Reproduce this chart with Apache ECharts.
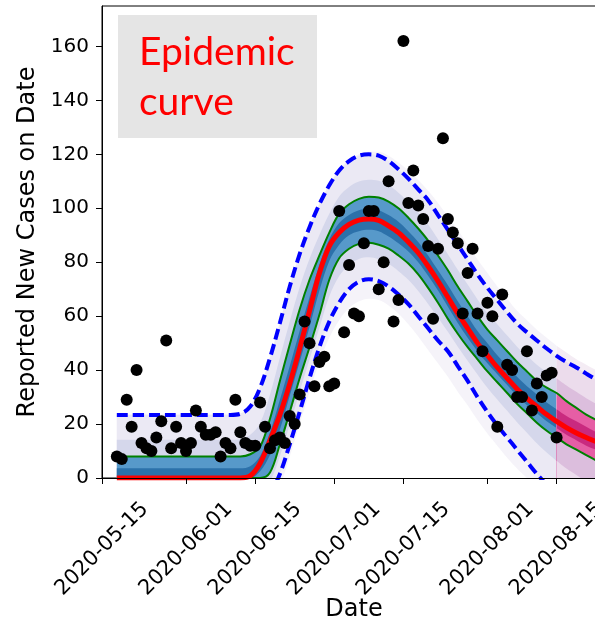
<!DOCTYPE html>
<html>
<head>
<meta charset="utf-8">
<script src="https://cdn.jsdelivr.net/npm/echarts@6/dist/echarts.min.js"></script>
<style>
html,body{margin:0;padding:0;background:#fff;}
#chart{width:595px;height:620px;}
</style>
</head>
<body>
<div id="chart"></div>
<script>
// ---- data ----
// daily reported new cases, first report on 2020-05-18
const firstReport = '2020-05-18';
const reportedCases = [8,7,29,19,40,13,11,10,15,21,51,11,19,13,10,13,25,19,16,16,
  17,8,13,11,29,17,13,12,12,28,19,11,14,15,13,23,20,31,58,50,
  34,43,45,34,35,99,54,79,61,60,87,99,99,70,80,110,58,66,162,102,
  114,101,96,86,59,85,126,96,91,87,61,76,85,61,47,65,60,19,68,42,
  40,30,30,47,25,35,30,38,39,15];

// model curve sample dates, in days after 2020-05-15
const curveDays = [3,10,17,22,24,26,28,30,32,34,36,38,40,42,44,46,48,50,52,54,56,58,60,62,64,66,68,70,72,74,76,78,80,82,84,86,88,90,92,94,96,98,100,102,104];
// median fit
const median = [0,0,0,0,0,0,0, 0.8,5.5,14,23.5,35,48,62,76,86,91,94,95.6,96,95.5,93.5,91,87.5,83.5,78.5,73,67,61,55.5,50,45.5,41,37,33,29.5,26.5,23.5,21,18.7,16.7,15,13.5,12,10.8];
// inner interval (green)
const greenHigh = [8,8,8,8,8,8,8, 8.8,11.6,22,36,49.5,62.5,73.5,82.5,91,98,101.5,103.5,104.3,104,102.5,100,96.5,92.5,88,82.5,77,71,65.5,60,55,51,47,43,39.5,36,33.5,31.5,28.5,26,23.5,21.5,19.5,18];
const greenLow = [0,0,0,0,0,0,0, 0,0,2,12.5,24.5,37,48.5,60.5,73.5,81.5,85,86.8,87.2,86.5,85,82.5,79.5,75.5,70.5,65,59,53.5,48.5,44,39.5,35.5,31.5,27.5,24,20.5,17.5,15,12.5,10.5,8.5,6.5,5,4];
// prediction interval (dashed)
const dashHigh = [23.4,23.4,23.4,23.4,23.4,23.4,23.8, 26.5,33.5,44.5,57.5,71,83,93,101.5,108.5,114,117.5,119.5,120,119.5,117.5,114.5,111,107,103,97.5,92,86.5,81,75.5,70.5,66,61.5,57.3,54,51,48,45.3,43,41,38.7,36.5,34.5,33];
const dashLow = [-15,-15,-15,-15,-15,-15,-15, -14,-11,-6,1.5,12.5,24.5,37,48.5,58,65,70,72.8,73.7,73,71,68,64.5,60,55.5,51,47,41.5,36,30,24.5,19.5,15,10.5,6,1.5,-2.5,-6.5,-10,-13,-16,-18,-20,-22];
// outer edge of the quantile fan
const fanHigh = [23.6,23.6,23.6,23.6,23.6,23.6,24, 27,34,45,58,71.5,83.5,93.5,102,109,114.5,118,120,121,121,119.5,117,114,110.5,106.5,102,97,92,86.5,81,76,71,66.5,62,58.5,55,52,49,46.5,44,42,40,38,36];
const fanLow = [-20,-20,-20,-20,-20,-20,-20, -18,-15,-10,-3,8,20,32,43,52,58.5,63,65.5,66.5,66,64,61,57,52.5,47.5,42.5,37.5,32,27,21.5,16.5,12,7.5,3.5,0,-3,-6,-9,-12,-15,-18,-20,-22,-24];
// where the pale outer fan turns into the denser lavender band
const lavHigh = [14.2,14.2,14.2,14.2,14.2,14.2,14.4, 16,20.4,31,44.6,58,70.7,81.3,90.1,98,104.4,107.9,109.9,110.6,110.2,108.5,105.8,102.3,98.3,94,88.5,83,77.2,71.7,66.2,61.2,57,52.8,48.7,45.3,42,39.3,37,34.3,32,29.6,27.5,25.5,24];
const lavLow = [-6,-6,-6,-6,-6,-6,-6, -5.6,-4.4,-1.2,8.1,19.7,32,43.9,55.7,67.3,74.9,79,81.2,81.8,81.1,79.4,76.7,73.5,69.3,64.5,59.4,54.2,48.7,43.5,38.4,33.5,29.1,24.9,20.7,16.8,12.9,9.5,6.4,3.5,1.1,-1.3,-3.3,-5,-6.4];
// dark core of the fan
const coreHigh = [3.6,3.6,3.6,3.6,3.6,3.6,3.6, 4.4,8.2,17,29,41.5,54.5,67,79,88.5,94.5,97.5,99.3,99.8,99.3,97.5,95,91.5,87.5,82.5,77,71.5,65.5,60,54.5,50,45.5,41.5,37.5,34,31,28,25.5,23,21,19,17,15.5,14];
const coreLow = [0,0,0,0,0,0,0, 0,2.5,8.5,18,30.5,43,56,69.5,80.5,86.5,90,91.5,92,91.5,89.5,87,84,80,75,69.5,63.5,57.5,52,47,42.5,38.5,34.5,30.5,27,24,21,18.5,16,14,12,10.5,9,8];

const forecastFrom = 92; // last reported day: 2020-08-15
const dateTicks = ['2020-05-15','2020-06-01','2020-06-15','2020-07-01','2020-07-15','2020-08-01','2020-08-15'];
const caseTicks = [0,20,40,60,80,100,120,140,160];

// ---- helpers: dates are placed as day numbers counted from 2020-05-15 ----
const DAY = 86400000;
const parseDay = s => { const p = s.split('-').map(Number); return Date.UTC(p[0], p[1]-1, p[2]); };
const origin = parseDay('2020-05-15');
const toDay = s => Math.round((parseDay(s) - origin) / DAY);
const startDay = toDay(firstReport);
const tickDays = dateTicks.map(toDay);

const pts = (vals, lo, hi) => curveDays
  .map((d, i) => [d, vals[i]])
  .filter(p => p[0] >= lo && p[0] <= hi);

const SMOOTH = 0.35;
function band(vals, color, lo, hi) {
  return {
    type: 'line', data: pts(vals, lo, hi), smooth: SMOOTH, symbol: 'none',
    lineStyle: { width: 0 }, areaStyle: { color: color, opacity: 1 },
    silent: true, z: 1
  };
}
function curve(vals, color, width, type) {
  return {
    type: 'line', data: pts(vals, -1e9, 1e9), smooth: SMOOTH, symbol: 'none',
    lineStyle: { color: color, width: width, type: type || 'solid' },
    silent: true, z: 3
  };
}

// nested fan painted from the outside in; each area fills down to zero
// [curve, colour before the last report, colour of the forecast]
const fanLayers = [
  [fanHigh, '#f5f3f9', '#f4ecf4'],
  [dashHigh, '#ebe9f4', '#ecdcec'],
  [lavHigh, '#d5d7eb', '#dcbedd'],
  [greenHigh, '#5799ca', '#e65ea5'],
  [coreHigh, '#2c71aa', '#c92a7f'],
  [coreLow, '#5799ca', '#e65ea5'],
  [greenLow, '#d5d7eb', '#dcbedd'],
  [lavLow, '#ebe9f4', '#ecdcec'],
  [dashLow, '#f5f3f9', '#f4ecf4'],
  [fanLow, '#ffffff', '#ffffff']
];
const series = [];
fanLayers.forEach(l => series.push(band(l[0], l[1], -1e9, forecastFrom)));
fanLayers.forEach(l => series.push(band(l[0], l[2], forecastFrom, 1e9)));

series.push(curve(greenHigh, '#008000', 2));
series.push(curve(greenLow, '#008000', 2));
series.push(curve(dashHigh, '#0000ff', 4, [11, 5]));
series.push(curve(dashLow, '#0000ff', 4, [11, 5]));
series.push(curve(median, '#ff0000', 5));
series.push({
  type: 'scatter', symbolSize: 12, itemStyle: { color: '#000', opacity: 1 }, z: 5, silent: true,
  data: reportedCases.map((v, i) => [startDay + i, v])
});

const tickFont = { fontFamily: 'DejaVu Sans', fontSize: 20, color: '#000' };
const dateFont = { fontFamily: 'DejaVu Sans', fontSize: 21, color: '#000' };
const nameFont = { fontFamily: 'DejaVu Sans', fontSize: 24, color: '#000' };

const chart = echarts.init(document.getElementById('chart'), null, { renderer: 'canvas' });
chart.setOption({
  animation: false,
  backgroundColor: '#fff',
  grid: {
    left: 102, top: 6, width: 504, height: 472,
    containLabel: false, outerBoundsMode: 'none',
    show: true, borderColor: '#000', borderWidth: 1, backgroundColor: 'transparent'
  },
  xAxis: {
    type: 'value', min: 0, max: 102, z: 10,
    axisLine: { show: true, onZero: false, lineStyle: { color: '#000', width: 1 } },
    axisTick: { show: true, length: 6, customValues: tickDays, lineStyle: { color: '#000' } },
    axisLabel: Object.assign({
      customValues: tickDays, rotate: 45, align: 'center', verticalAlign: 'middle', margin: 71,
      formatter: v => dateTicks[tickDays.indexOf(Math.round(v))]
    }, dateFont),
    splitLine: { show: false },
    name: 'Date', nameLocation: 'middle', nameGap: 120, nameMoveOverlap: false,
    nameTextStyle: nameFont
  },
  yAxis: {
    type: 'value', min: 0, max: 175, z: 10,
    axisLine: { show: true, lineStyle: { color: '#000', width: 1 } },
    axisTick: { show: true, length: 6, customValues: caseTicks, lineStyle: { color: '#000' } },
    axisLabel: Object.assign({ customValues: caseTicks, margin: 13 }, tickFont),
    splitLine: { show: false },
    name: 'Reported New Cases on Date', nameLocation: 'middle', nameGap: 62, nameRotate: 90,
    nameMoveOverlap: false, nameTextStyle: nameFont
  },
  graphic: [
    { type: 'rect', shape: { x: 118, y: 15, width: 199, height: 123 }, style: { fill: '#e5e5e5' }, z: 100 },
    { type: 'text', x: 139, y: 52.5, z: 101,
      style: { text: 'Epidemic', font: '39px Lato', fill: '#ff0000', verticalAlign: 'middle' } },
    { type: 'text', x: 139, y: 102.5, z: 101,
      style: { text: 'curve', font: '39px Lato', fill: '#ff0000', verticalAlign: 'middle' } }
  ],
  series: series
});
</script>
</body>
</html>
